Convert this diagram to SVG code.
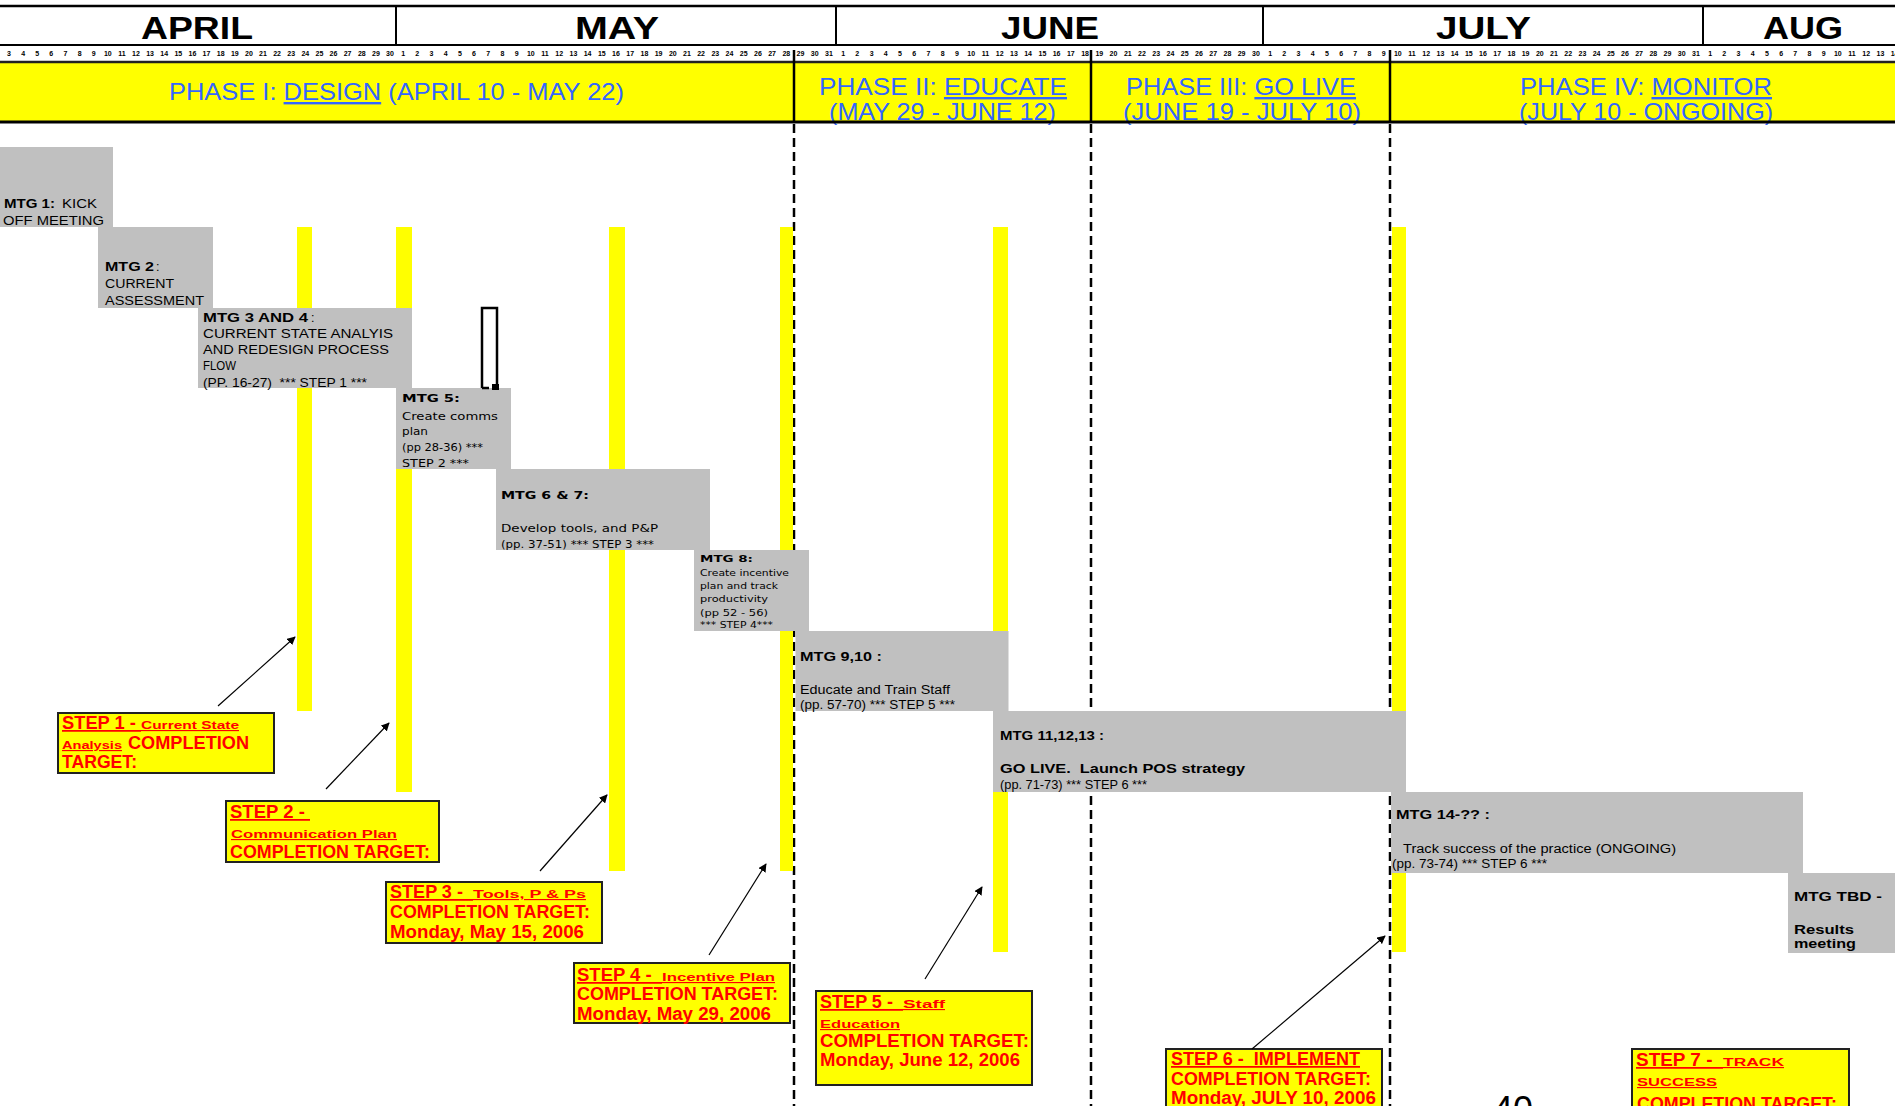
<svg xmlns="http://www.w3.org/2000/svg" width="1895" height="1106" viewBox="0 0 1895 1106">
<style>
text{white-space:pre}
.mo{font-family:"Liberation Sans",Arial,sans-serif;font-weight:bold;font-size:32px;fill:#000}
.tk{font-family:"Liberation Sans",Arial,sans-serif;font-weight:bold;font-size:7px;fill:#000;text-anchor:middle}
.ph{font-family:"Liberation Sans",Arial,sans-serif;font-size:24px;fill:#3366ff}
.u{text-decoration:underline}
.bx{fill:#c0c0c0}
.bar{fill:#ffff00}
.mt{font-family:"Liberation Sans",Arial,sans-serif;font-size:12.5px;fill:#000}
.mv{font-family:"DejaVu Sans",Verdana,sans-serif;font-size:11px;fill:#000}
.ms{font-family:"DejaVu Sans",Verdana,sans-serif;font-size:9.5px;fill:#000}
.b{font-weight:bold}
.sb{fill:#ffff00;stroke:#222;stroke-width:2}
.st{font-family:"Liberation Sans",Arial,sans-serif;font-weight:bold;font-size:17.5px;fill:#ff0000}
.ss{font-family:"Liberation Sans",Arial,sans-serif;font-weight:bold;font-size:11.5px;fill:#ff0000}
.dash{stroke:#000;stroke-width:2.5;stroke-dasharray:9 5;fill:none}
.arr{stroke:#000;stroke-width:1.2;fill:none;marker-end:url(#ah)}
</style>
<defs>
<marker id="ah" viewBox="0 0 10 10" refX="9" refY="5" markerWidth="7" markerHeight="7" orient="auto"><path d="M0,0 L10,5 L0,10 z" fill="#000"/></marker>
</defs>
<rect x="0" y="0" width="1895" height="1106" fill="#fff"/>

<g id="header">
<line x1="0" y1="6" x2="1895" y2="6" stroke="#000" stroke-width="2.5"/>
<line x1="0" y1="45" x2="1895" y2="45" stroke="#000" stroke-width="2"/>
<g stroke="#000" stroke-width="2">
<line x1="396" y1="6" x2="396" y2="46"/>
<line x1="836" y1="6" x2="836" y2="46"/>
<line x1="1263" y1="6" x2="1263" y2="46"/>
<line x1="1703" y1="6" x2="1703" y2="46"/>
</g>
<text class="mo" x="141" y="39" textLength="112" lengthAdjust="spacingAndGlyphs">APRIL</text>
<text class="mo" x="575" y="39" textLength="84" lengthAdjust="spacingAndGlyphs">MAY</text>
<text class="mo" x="1001" y="39" textLength="98" lengthAdjust="spacingAndGlyphs">JUNE</text>
<text class="mo" x="1436" y="39" textLength="95" lengthAdjust="spacingAndGlyphs">JULY</text>
<text class="mo" x="1763" y="39" textLength="80" lengthAdjust="spacingAndGlyphs">AUG</text>
<text class="tk" y="56"><tspan x="9">3</tspan><tspan x="23.1">4</tspan><tspan x="37.2">5</tspan><tspan x="51.3">6</tspan><tspan x="65.4">7</tspan><tspan x="79.6">8</tspan><tspan x="93.7">9</tspan><tspan x="107.8">10</tspan><tspan x="121.9">11</tspan><tspan x="136">12</tspan><tspan x="150.1">13</tspan><tspan x="164.2">14</tspan><tspan x="178.3">15</tspan><tspan x="192.4">16</tspan><tspan x="206.5">17</tspan><tspan x="220.7">18</tspan><tspan x="234.8">19</tspan><tspan x="248.9">20</tspan><tspan x="263">21</tspan><tspan x="277.1">22</tspan><tspan x="291.2">23</tspan><tspan x="305.3">24</tspan><tspan x="319.4">25</tspan><tspan x="333.5">26</tspan><tspan x="347.6">27</tspan><tspan x="361.8">28</tspan><tspan x="375.9">29</tspan><tspan x="390">30</tspan></text>
<text class="tk" y="56"><tspan x="403.1">1</tspan><tspan x="417.3">2</tspan><tspan x="431.5">3</tspan><tspan x="445.7">4</tspan><tspan x="459.9">5</tspan><tspan x="474">6</tspan><tspan x="488.2">7</tspan><tspan x="502.4">8</tspan><tspan x="516.6">9</tspan><tspan x="530.8">10</tspan><tspan x="545">11</tspan><tspan x="559.2">12</tspan><tspan x="573.4">13</tspan><tspan x="587.6">14</tspan><tspan x="601.8">15</tspan><tspan x="616">16</tspan><tspan x="630.2">17</tspan><tspan x="644.4">18</tspan><tspan x="658.6">19</tspan><tspan x="672.8">20</tspan><tspan x="687">21</tspan><tspan x="701.1">22</tspan><tspan x="715.3">23</tspan><tspan x="729.5">24</tspan><tspan x="743.7">25</tspan><tspan x="757.9">26</tspan><tspan x="772.1">27</tspan><tspan x="786.3">28</tspan><tspan x="800.5">29</tspan><tspan x="814.7">30</tspan><tspan x="828.9">31</tspan></text>
<text class="tk" y="56"><tspan x="843.1">1</tspan><tspan x="857.3">2</tspan><tspan x="871.6">3</tspan><tspan x="885.8">4</tspan><tspan x="900">5</tspan><tspan x="914.3">6</tspan><tspan x="928.5">7</tspan><tspan x="942.7">8</tspan><tspan x="957">9</tspan><tspan x="971.2">10</tspan><tspan x="985.4">11</tspan><tspan x="999.7">12</tspan><tspan x="1013.9">13</tspan><tspan x="1028.1">14</tspan><tspan x="1042.4">15</tspan><tspan x="1056.6">16</tspan><tspan x="1070.8">17</tspan><tspan x="1085.1">18</tspan><tspan x="1099.3">19</tspan><tspan x="1113.5">20</tspan><tspan x="1127.8">21</tspan><tspan x="1142">22</tspan><tspan x="1156.2">23</tspan><tspan x="1170.5">24</tspan><tspan x="1184.7">25</tspan><tspan x="1198.9">26</tspan><tspan x="1213.2">27</tspan><tspan x="1227.4">28</tspan><tspan x="1241.6">29</tspan><tspan x="1255.9">30</tspan></text>
<text class="tk" y="56"><tspan x="1270.1">1</tspan><tspan x="1284.3">2</tspan><tspan x="1298.5">3</tspan><tspan x="1312.7">4</tspan><tspan x="1326.9">5</tspan><tspan x="1341.1">6</tspan><tspan x="1355.3">7</tspan><tspan x="1369.5">8</tspan><tspan x="1383.6">9</tspan><tspan x="1397.8">10</tspan><tspan x="1412">11</tspan><tspan x="1426.2">12</tspan><tspan x="1440.4">13</tspan><tspan x="1454.6">14</tspan><tspan x="1468.8">15</tspan><tspan x="1483">16</tspan><tspan x="1497.2">17</tspan><tspan x="1511.4">18</tspan><tspan x="1525.6">19</tspan><tspan x="1539.8">20</tspan><tspan x="1554">21</tspan><tspan x="1568.2">22</tspan><tspan x="1582.4">23</tspan><tspan x="1596.6">24</tspan><tspan x="1610.8">25</tspan><tspan x="1624.9">26</tspan><tspan x="1639.1">27</tspan><tspan x="1653.3">28</tspan><tspan x="1667.5">29</tspan><tspan x="1681.7">30</tspan><tspan x="1695.9">31</tspan></text>
<text class="tk" y="56"><tspan x="1710.1">1</tspan><tspan x="1724.3">2</tspan><tspan x="1738.5">3</tspan><tspan x="1752.7">4</tspan><tspan x="1766.9">5</tspan><tspan x="1781.1">6</tspan><tspan x="1795.3">7</tspan><tspan x="1809.5">8</tspan><tspan x="1823.6">9</tspan><tspan x="1837.8">10</tspan><tspan x="1852">11</tspan><tspan x="1866.2">12</tspan><tspan x="1880.4">13</tspan><tspan x="1894.6">14</tspan></text>
<rect x="0" y="62" width="1895" height="60" fill="#ffff00"/>
<text class="ph" x="169" y="100" textLength="455" lengthAdjust="spacingAndGlyphs">PHASE I: <tspan class="u">DESIGN</tspan> (APRIL 10 - MAY 22)</text>
<text class="ph" x="819" y="95" textLength="248" lengthAdjust="spacingAndGlyphs">PHASE II: <tspan class="u">EDUCATE</tspan></text>
<text class="ph" x="829" y="120" textLength="227" lengthAdjust="spacingAndGlyphs">(MAY 29 - JUNE 12)</text>
<text class="ph" x="1126" y="95" textLength="230" lengthAdjust="spacingAndGlyphs">PHASE III: <tspan class="u">GO LIVE</tspan></text>
<text class="ph" x="1123" y="120" textLength="238" lengthAdjust="spacingAndGlyphs">(JUNE 19 - JULY 10)</text>
<text class="ph" x="1520" y="95" textLength="252" lengthAdjust="spacingAndGlyphs">PHASE IV: <tspan class="u">MONITOR</tspan></text>
<text class="ph" x="1519" y="120" textLength="254" lengthAdjust="spacingAndGlyphs">(JULY 10 - ONGOING)</text>
<line x1="0" y1="62" x2="1895" y2="62" stroke="#222" stroke-width="2.5"/>
<line x1="0" y1="122" x2="1895" y2="122" stroke="#000" stroke-width="3"/>
<g stroke="#000" stroke-width="2.5">
<line x1="794" y1="50" x2="794" y2="122"/>
<line x1="1091" y1="50" x2="1091" y2="122"/>
<line x1="1390" y1="50" x2="1390" y2="122"/>
</g>
</g>

<g id="phase-dividers">
<line class="dash" x1="794" y1="124" x2="794" y2="1106"/>
<line class="dash" x1="1091" y1="124" x2="1091" y2="1106"/>
<line class="dash" x1="1390" y1="124" x2="1390" y2="1106"/>
</g>

<g id="milestone-bars">
<rect class="bar" x="297" y="227" width="15" height="484"/>
<rect class="bar" x="396" y="227" width="16" height="565"/>
<rect class="bar" x="609" y="227" width="16" height="644"/>
<rect class="bar" x="780" y="227" width="13" height="644"/>
<rect class="bar" x="993" y="227" width="15" height="725"/>
<rect class="bar" x="1392" y="227" width="14" height="725"/>
</g>

<g id="mtg1"><rect class="bx" x="0" y="147" width="113" height="80"/>
<text class="mt" y="208"><tspan class="b" x="4" textLength="51" lengthAdjust="spacingAndGlyphs">MTG 1:</tspan><tspan x="62" textLength="35" lengthAdjust="spacingAndGlyphs">KICK</tspan></text>
<text class="mt" x="3" y="225" textLength="101" lengthAdjust="spacingAndGlyphs">OFF MEETING</text></g>

<g id="mtg2"><rect class="bx" x="98" y="227" width="115" height="81"/>
<text class="mt" y="271"><tspan class="b" x="105" textLength="49" lengthAdjust="spacingAndGlyphs">MTG 2</tspan><tspan x="156">:</tspan></text>
<text class="mt" x="105" y="288" textLength="69" lengthAdjust="spacingAndGlyphs">CURRENT</text>
<text class="mt" x="105" y="305" textLength="99" lengthAdjust="spacingAndGlyphs">ASSESSMENT</text></g>

<g id="mtg3-4"><rect class="bx" x="198" y="308" width="214" height="80"/>
<text class="mt" y="322"><tspan class="b" x="203" textLength="105" lengthAdjust="spacingAndGlyphs">MTG 3 AND 4</tspan><tspan x="311">:</tspan></text>
<text class="mt" x="203" y="338" textLength="190" lengthAdjust="spacingAndGlyphs">CURRENT STATE ANALYIS</text>
<text class="mt" x="203" y="354" textLength="186" lengthAdjust="spacingAndGlyphs">AND REDESIGN PROCESS</text>
<text class="mt" x="203" y="370" textLength="33" lengthAdjust="spacingAndGlyphs">FLOW</text>
<text class="mt" x="203" y="387" textLength="164" lengthAdjust="spacingAndGlyphs">(PP. 16-27)  *** STEP 1 ***</text></g>

<g id="mtg5"><rect class="bx" x="396" y="388" width="115" height="81"/>
<text class="mv b" x="402" y="402" textLength="58" lengthAdjust="spacingAndGlyphs">MTG 5:</text>
<text class="mv" x="402" y="420" textLength="96" lengthAdjust="spacingAndGlyphs">Create comms</text>
<text class="mv" x="402" y="435" textLength="26" lengthAdjust="spacingAndGlyphs">plan</text>
<text class="mv" x="402" y="451" textLength="81" lengthAdjust="spacingAndGlyphs">(pp 28-36) ***</text>
<text class="mv" x="402" y="467" textLength="67" lengthAdjust="spacingAndGlyphs">STEP 2 ***</text></g>

<g id="mtg6-7"><rect class="bx" x="496" y="469" width="214" height="81"/>
<text class="mv b" x="501" y="499" textLength="88" lengthAdjust="spacingAndGlyphs">MTG 6 &amp; 7:</text>
<text class="mv" x="501" y="532" textLength="157" lengthAdjust="spacingAndGlyphs">Develop tools, and P&amp;P</text>
<text class="mv" x="501" y="548" textLength="153" lengthAdjust="spacingAndGlyphs">(pp. 37-51) *** STEP 3 ***</text></g>

<g id="mtg8"><rect class="bx" x="694" y="550" width="115" height="81"/>
<text class="ms b" x="700" y="562" textLength="53" lengthAdjust="spacingAndGlyphs">MTG 8:</text>
<text class="ms" x="700" y="576" textLength="89" lengthAdjust="spacingAndGlyphs">Create incentive</text>
<text class="ms" x="700" y="589" textLength="78" lengthAdjust="spacingAndGlyphs">plan and track</text>
<text class="ms" x="700" y="602" textLength="68" lengthAdjust="spacingAndGlyphs">productivity</text>
<text class="ms" x="700" y="616" textLength="68" lengthAdjust="spacingAndGlyphs">(pp 52 - 56)</text>
<text class="ms" x="700" y="628" textLength="73" lengthAdjust="spacingAndGlyphs">*** STEP 4***</text></g>

<g id="mtg9-10"><rect class="bx" x="795.5" y="631" width="213" height="80"/>
<text class="mt b" x="800" y="661" textLength="82" lengthAdjust="spacingAndGlyphs">MTG 9,10 :</text>
<text class="mt" x="800" y="694" textLength="150" lengthAdjust="spacingAndGlyphs">Educate and Train Staff</text>
<text class="mt" x="800" y="709" textLength="155" lengthAdjust="spacingAndGlyphs">(pp. 57-70) *** STEP 5 ***</text></g>

<g id="mtg11-13"><rect class="bx" x="993" y="711" width="413" height="81"/>
<text class="mt b" x="1000" y="740" textLength="104" lengthAdjust="spacingAndGlyphs">MTG 11,12,13 :</text>
<text class="mt b" x="1000" y="773" textLength="245" lengthAdjust="spacingAndGlyphs">GO LIVE.  Launch POS strategy</text>
<text class="mt" x="1000" y="789" textLength="147" lengthAdjust="spacingAndGlyphs">(pp. 71-73) *** STEP 6 ***</text></g>

<g id="mtg14"><rect class="bx" x="1391" y="792" width="412" height="81"/>
<text class="mt b" x="1396" y="819" textLength="94" lengthAdjust="spacingAndGlyphs">MTG 14-?? :</text>
<text class="mt" x="1403" y="853" textLength="273" lengthAdjust="spacingAndGlyphs">Track success of the practice (ONGOING)</text>
<text class="mt" x="1392" y="868" textLength="155" lengthAdjust="spacingAndGlyphs">(pp. 73-74) *** STEP 6 ***</text></g>

<g id="mtg-tbd"><rect class="bx" x="1788" y="873" width="107" height="80"/>
<text class="mt b" x="1794" y="901" textLength="88" lengthAdjust="spacingAndGlyphs">MTG TBD -</text>
<text class="mt b" x="1794" y="934" textLength="60" lengthAdjust="spacingAndGlyphs">Results</text>
<text class="mt b" x="1794" y="948" textLength="62" lengthAdjust="spacingAndGlyphs">meeting</text></g>

<g id="black-bracket" fill="none" stroke="#000" stroke-width="2.5">
<path d="M482,388 L482,308 L497,308 L497,388"/>
<line x1="482" y1="388" x2="489" y2="388"/>
<rect x="492" y="384" width="7" height="6" fill="#000" stroke="none"/>
</g>

<g id="step1"><rect class="sb" x="58" y="713" width="216" height="60"/>
<text y="729"><tspan class="st u" x="62" textLength="79" lengthAdjust="spacingAndGlyphs">STEP 1 - </tspan><tspan class="ss u" x="141" textLength="98" lengthAdjust="spacingAndGlyphs">Current State</tspan></text>
<text y="749"><tspan class="ss u" x="62" textLength="60" lengthAdjust="spacingAndGlyphs">Analysis</tspan><tspan class="st" x="128" textLength="121" lengthAdjust="spacingAndGlyphs">COMPLETION</tspan></text>
<text class="st" x="62" y="768" textLength="75" lengthAdjust="spacingAndGlyphs">TARGET:</text></g>

<g id="step2"><rect class="sb" x="226" y="801" width="213" height="61"/>
<text class="st u" x="230" y="818" textLength="80" lengthAdjust="spacingAndGlyphs">STEP 2 - </text>
<text class="ss u" x="231" y="838" textLength="166" lengthAdjust="spacingAndGlyphs">Communication Plan</text>
<text class="st" x="230" y="858" textLength="200" lengthAdjust="spacingAndGlyphs">COMPLETION TARGET:</text></g>

<g id="step3"><rect class="sb" x="386" y="882" width="216" height="61"/>
<text y="898"><tspan class="st u" x="390" textLength="83" lengthAdjust="spacingAndGlyphs">STEP 3 -  </tspan><tspan class="ss u" x="473" textLength="113" lengthAdjust="spacingAndGlyphs">Tools, P &amp; Ps</tspan></text>
<text class="st" x="390" y="918" textLength="200" lengthAdjust="spacingAndGlyphs">COMPLETION TARGET:</text>
<text class="st" x="390" y="938" textLength="194" lengthAdjust="spacingAndGlyphs">Monday, May 15, 2006</text></g>

<g id="step4"><rect class="sb" x="574" y="963" width="216" height="60"/>
<text y="981"><tspan class="st u" x="577" textLength="85" lengthAdjust="spacingAndGlyphs">STEP 4 -  </tspan><tspan class="ss u" x="662" textLength="113" lengthAdjust="spacingAndGlyphs">Incentive Plan</tspan></text>
<text class="st" x="577" y="1000" textLength="201" lengthAdjust="spacingAndGlyphs">COMPLETION TARGET:</text>
<text class="st" x="577" y="1020" textLength="194" lengthAdjust="spacingAndGlyphs">Monday, May 29, 2006</text></g>

<g id="step5"><rect class="sb" x="816" y="991" width="216" height="94"/>
<text y="1008"><tspan class="st u" x="820" textLength="83" lengthAdjust="spacingAndGlyphs">STEP 5 -  </tspan><tspan class="ss u" x="903" textLength="42" lengthAdjust="spacingAndGlyphs">Staff</tspan></text>
<text class="ss u" x="820" y="1028" textLength="80" lengthAdjust="spacingAndGlyphs">Education</text>
<text class="st" x="820" y="1047" textLength="209" lengthAdjust="spacingAndGlyphs">COMPLETION TARGET:</text>
<text class="st" x="820" y="1066" textLength="200" lengthAdjust="spacingAndGlyphs">Monday, June 12, 2006</text></g>

<g id="step6"><rect class="sb" x="1166" y="1049" width="216" height="70"/>
<text class="st u" x="1171" y="1065" textLength="189" lengthAdjust="spacingAndGlyphs">STEP 6 -  IMPLEMENT</text>
<text class="st" x="1171" y="1085" textLength="200" lengthAdjust="spacingAndGlyphs">COMPLETION TARGET:</text>
<text class="st" x="1171" y="1104" textLength="205" lengthAdjust="spacingAndGlyphs">Monday, JULY 10, 2006</text></g>

<g id="step7"><rect class="sb" x="1632" y="1049" width="217" height="70"/>
<text y="1066"><tspan class="st u" x="1636" textLength="87" lengthAdjust="spacingAndGlyphs">STEP 7 -  </tspan><tspan class="ss u" x="1723" textLength="61" lengthAdjust="spacingAndGlyphs">TRACK</tspan></text>
<text class="ss u" x="1637" y="1086" textLength="80" lengthAdjust="spacingAndGlyphs">SUCCESS</text>
<text class="st" x="1637" y="1110" textLength="200" lengthAdjust="spacingAndGlyphs">COMPLETION TARGET:</text></g>

<g id="page-number"><text x="1493" y="1122" font-family="Liberation Sans, Arial, sans-serif" font-size="36" fill="#000">40</text></g>

<g id="connectors">
<line class="arr" x1="218" y1="706" x2="295" y2="637"/>
<line class="arr" x1="326" y1="789" x2="389" y2="723"/>
<line class="arr" x1="540" y1="871" x2="607" y2="795"/>
<line class="arr" x1="709" y1="955" x2="766" y2="864"/>
<line class="arr" x1="925" y1="979" x2="982" y2="887"/>
<line class="arr" x1="1252" y1="1049" x2="1385" y2="936"/>
</g>
</svg>
